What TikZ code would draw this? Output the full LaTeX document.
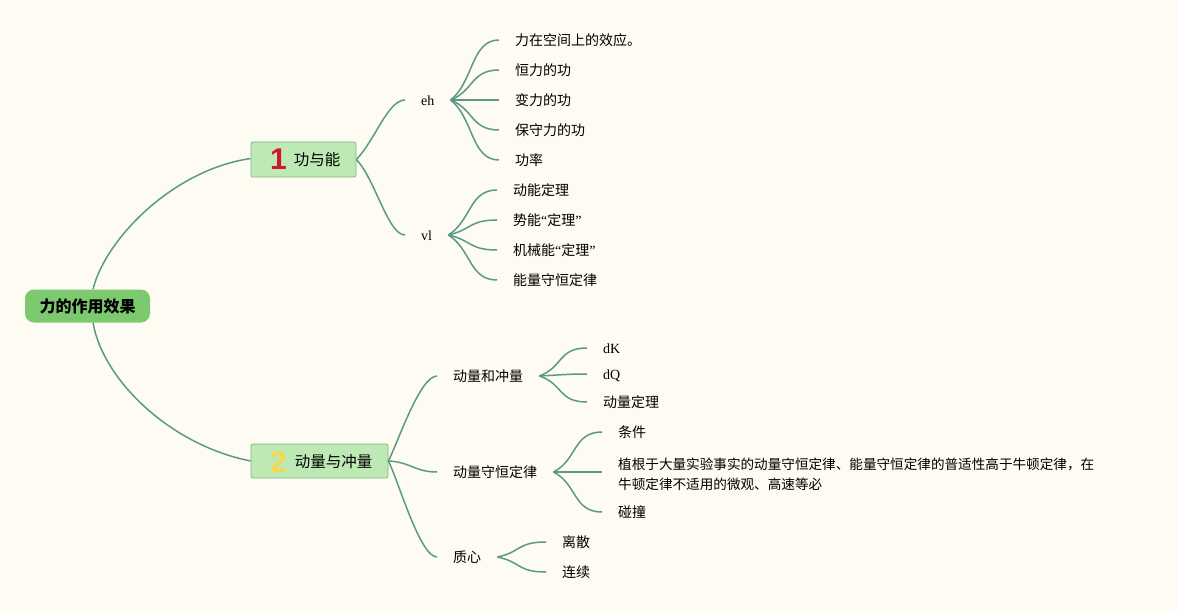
\documentclass[tikz,border=0pt]{standalone}
\usepackage{fontspec}
\setmainfont{Noto Sans CJK SC}
\newfontfamily\lat{Liberation Serif}
\newfontfamily\numfont{Liberation Sans}
\usetikzlibrary{calc}
\definecolor{bg}{HTML}{FDFBF2}
\definecolor{conn}{HTML}{5B9A88}
\definecolor{rootfill}{HTML}{7CC96F}
\definecolor{boxfill}{HTML}{BDE9B5}
\definecolor{boxline}{HTML}{80B87C}
\definecolor{numone}{HTML}{D3152B}
\definecolor{numtwo}{HTML}{F6D94A}
\tikzset{
  conn/.style={draw=conn, line width=1.5pt},
  rootbox/.style={fill=rootfill, rounded corners=9pt, minimum width=125pt, minimum height=33pt, inner sep=0pt,
    font=\fontsize{16}{18}\selectfont\bfseries},
  topicbox/.style={fill=boxfill, draw=boxline, line width=0.8pt, rounded corners=2pt, inner sep=0pt},
  topictext/.style={inner sep=0pt, font=\fontsize{15.5}{18}\selectfont, text height=1.12em, text depth=0em},
  numtext/.style={inner sep=0pt, font=\numfont\fontsize{30}{30}\selectfont\bfseries},
  leaf/.style={anchor=west, inner xsep=16pt, inner ysep=2pt, font=\fontsize{14}{16}\selectfont, text height=1.12em, text depth=0em},
}
\begin{document}
\begin{tikzpicture}[x=1pt,y=-1pt]
\fill[bg] (0,0) rectangle (1177,612);
\useasboundingbox (0,0) rectangle (1177,612);

% root
\node[rootbox] (root) at (87.5,306) {力的作用效果};

% topic 1
\node[topicbox, minimum width=105pt, minimum height=35pt] (t1) at (303.5,159.5) {};
\node[numtext, text=numone] (t1n) at (278.5,159.5) {1};
\node[topictext] (t1t) at (317,160) {功与能};

% topic 2
\node[topicbox, minimum width=137pt, minimum height=34pt] (t2) at (319.5,461) {};
\node[numtext, text=numtwo] (t2n) at (278.5,462) {2};
\node[topictext] (t2t) at (333.5,462) {动量与冲量};

% root connectors
\draw[conn] ([xshift=5.5pt]root.north) .. controls (105,240) and (172,170) .. ([yshift=1pt]t1.west);
\draw[conn] ([xshift=5.5pt]root.south) .. controls (103,380) and (170,445) .. (t2.west);

% level 2 under topic 1
\node[leaf] (eh) at (405,100) {\lat eh};
\node[leaf] (vl) at (405,235) {\lat vl};
\draw[conn] (t1.east) .. controls +(19,-20) and +(-17,0) .. (eh.west);
\draw[conn] (t1.east) .. controls +(19,20) and +(-17,0) .. (vl.west);

% eh children
\node[leaf] (e1) at (499,40) {力在空间上的效应。};
\node[leaf] (e2) at (499,70) {恒力的功};
\node[leaf] (e3) at (499,100) {变力的功};
\node[leaf] (e4) at (499,130) {保守力的功};
\node[leaf] (e5) at (499,160) {功率};
\draw[conn] (eh.east) .. controls +(23,-18) and +(-28,0) .. (e1.west);
\draw[conn] (eh.east) .. controls +(23,-9) and +(-28,0) .. (e2.west);
\draw[conn] (eh.east) -- (e3.west);
\draw[conn] (eh.east) .. controls +(23,9) and +(-28,0) .. (e4.west);
\draw[conn] (eh.east) .. controls +(23,18) and +(-28,0) .. (e5.west);

% vl children
\node[leaf] (v1) at (497,190) {动能定理};
\node[leaf] (v2) at (497,220) {势能{\lat “}定理{\lat ”}};
\node[leaf] (v3) at (497,250) {机械能{\lat “}定理{\lat ”}};
\node[leaf] (v4) at (497,280) {能量守恒定律};
\draw[conn] (vl.east) .. controls +(23,-14) and +(-28,0) .. (v1.west);
\draw[conn] (vl.east) .. controls +(23,-5) and +(-28,0) .. (v2.west);
\draw[conn] (vl.east) .. controls +(23,5) and +(-28,0) .. (v3.west);
\draw[conn] (vl.east) .. controls +(23,14) and +(-28,0) .. (v4.west);

% level 2 under topic 2
\node[leaf] (m1) at (437,376) {动量和冲量};
\node[leaf] (m2) at (437,472) {动量守恒定律};
\node[leaf] (m3) at (437,557) {质心};
\draw[conn] (t2.east) .. controls +(10,-20) and +(-17,0) .. (m1.west);
\draw[conn] (t2.east) .. controls +(22,1) and +(-22,0) .. (m2.west);
\draw[conn] (t2.east) .. controls +(10,20) and +(-17,0) .. (m3.west);

% 动量和冲量 children
\node[leaf] (a1) at (587,348) {\lat dK};
\node[leaf] (a2) at (587,374) {\lat dQ};
\node[leaf] (a3) at (587,402) {动量定理};
\draw[conn] (m1.east) .. controls +(24,-9) and +(-29,0) .. (a1.west);
\draw[conn] (m1.east) .. controls +(20,-1) and +(-20,0) .. (a2.west);
\draw[conn] (m1.east) .. controls +(24,8) and +(-29,0) .. (a3.west);

% 动量守恒定律 children
\node[leaf] (b1) at (602,432) {条件};
\node[leaf, align=left, text height=, text depth=, font=\fontsize{13.6}{20}\selectfont] (b2) at (602,474)
  {植根于大量实验事实的动量守恒定律、能量守恒定律的普适性高于牛顿定律，在\\牛顿定律不适用的微观、高速等必};
\node[leaf] (b3) at (602,512) {碰撞};
\draw[conn] (m2.east) .. controls +(24,-12) and +(-29,0) .. (b1.west);
\draw[conn] (m2.east) -- ([yshift=2pt]b2.west);
\draw[conn] (m2.east) .. controls +(24,12) and +(-29,0) .. (b3.west);

% 质心 children
\node[leaf] (c1) at (546,542) {离散};
\node[leaf] (c2) at (546,572) {连续};
\draw[conn] (m3.east) .. controls +(24,-5) and +(-29,0) .. (c1.west);
\draw[conn] (m3.east) .. controls +(24,5) and +(-29,0) .. (c2.west);
\end{tikzpicture}
\end{document}
